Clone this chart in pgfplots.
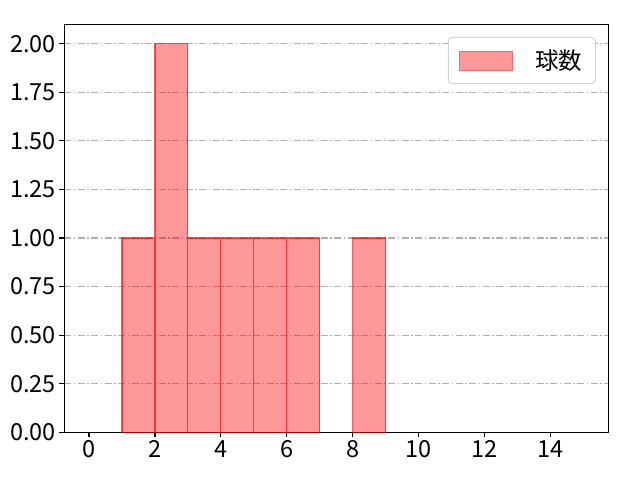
\documentclass[border=0pt]{standalone}
\usepackage{pgfplots}
\pgfplotsset{compat=1.18}
\usepackage{fontspec}
\setmainfont{Noto Sans CJK JP}
\definecolor{gridgray}{HTML}{B0B0B0}
\definecolor{barfill}{RGB}{255,153,153}
\definecolor{baredge}{RGB}{255,60,60}
\begin{document}
\begin{tikzpicture}
\path[use as bounding box] (-64.3pt,-47.7pt) rectangle (575.7pt,432.3pt);
\begin{axis}[
  at={(0pt,0pt)}, anchor=south west,
  scale only axis, width=544pt, height=408pt,
  xmin=-0.75, xmax=15.75, ymin=0, ymax=2.1,
  xtick={0,2,4,6,8,10,12,14},
  ytick={0,0.25,0.5,0.75,1,1.25,1.5,1.75,2},
  yticklabel style={/pgf/number format/.cd, fixed, fixed zerofill, precision=2},
  /pgf/number format/assume math mode=true,
  tick label style={font=\fontsize{23.5}{27}\selectfont},
  tick align=outside, major tick length=5pt, tick pos=left,
  axis line style={line width=1.1pt},
  every tick/.style={black, line width=1.1pt},
  ymajorgrids,
  grid style={gridgray, line width=1.1pt, dash pattern=on 7pt off 2.5pt on 1.5pt off 2.5pt},
  legend style={at={(0.977,0.969)}, anchor=north east, draw=black!18, line width=1pt,
    rounded corners=4pt, inner xsep=11pt, inner ysep=10.5pt,
    font=\fontsize{23.5}{27}\selectfont},
  legend cell align=left,
  legend image code/.code={\draw[sharp corners, fill=barfill, fill opacity=1, draw opacity=1, draw=baredge!55!barfill, line width=1pt] (0pt,-9.5pt) rectangle (53pt,9.5pt);},
  legend style={/tikz/every odd column/.append style={column sep=20pt}},
]
\addplot[ybar interval, fill=red, fill opacity=0.4, draw=red, draw opacity=0.65, line width=1.1pt]
  coordinates {(1,1) (2,2) (3,1) (4,1) (5,1) (6,1) (7,1)};
\addlegendentry{球数}
\addplot[forget plot, ybar interval, fill=red, fill opacity=0.4, draw=red, draw opacity=0.65, line width=1.1pt]
  coordinates {(8,1) (9,1)};
\end{axis}
\end{tikzpicture}
\end{document}
